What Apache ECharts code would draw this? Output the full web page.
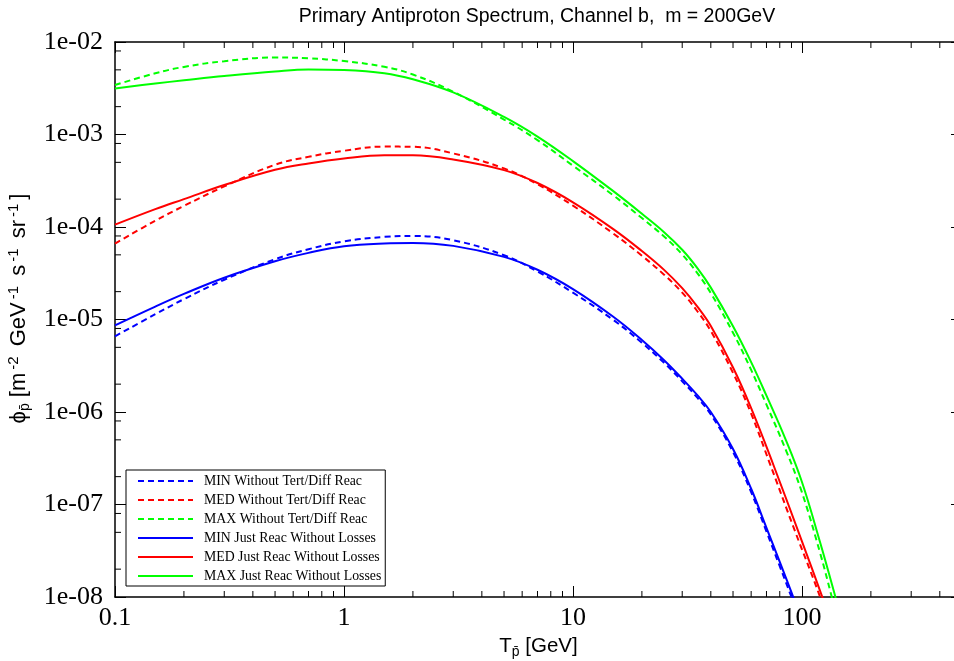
<!DOCTYPE html>
<html>
<head>
<meta charset="utf-8">
<script src="https://cdn.jsdelivr.net/npm/echarts@6/dist/echarts.min.js"></script>
<style>
html,body{margin:0;padding:0;background:#fff;}
#chart{width:954px;height:661px;}
</style>
</head>
<body>
<div id="chart"></div>
<script>
// ---------------- data ----------------
const titleText = 'Primary Antiproton Spectrum, Channel b,  m = 200GeV';
const legendNames = [
  'MIN Without Tert/Diff Reac',
  'MED Without Tert/Diff Reac',
  'MAX Without Tert/Diff Reac',
  'MIN Just Reac Without Losses',
  'MED Just Reac Without Losses',
  'MAX Just Reac Without Losses'
];
const seriesColors = ['#0000ff', '#ff0000', '#00ff00', '#0000ff', '#ff0000', '#00ff00'];
const seriesDashed = [true, true, true, false, false, false];

const xTickLabels = {'-1': '0.1', '0': '1', '1': '10', '2': '100'};
const xMinorTicks = [0.2,0.3,0.4,0.5,0.6,0.7,0.8,0.9, 2,3,4,5,6,7,8,9, 20,30,40,50,60,70,80,90, 200,300,400];
const yMinorTicks = [2e-8,5e-8,8e-8, 2e-7,5e-7,8e-7, 2e-6,5e-6,8e-6, 2e-5,5e-5,8e-5, 2e-4,5e-4,8e-4, 2e-3,5e-3,8e-3];

// MIN, dashed (Without Tert/Diff Reac)
const minDashed = [
  [0.1,6.58e-6],[0.15,1.14e-5],[0.2,1.66e-5],[0.3,2.69e-5],[0.5,4.49e-5],[0.7,5.75e-5],
  [1,7.0e-5],[1.5,7.82e-5],[2,8.0e-5],[3,7.2e-5],[5,4.95e-5],[7,3.3e-5],[10,1.95e-5],
  [15,9.9e-6],[20,5.6e-6],[25,3.4e-6],[30,2.15e-6],[35,1.42e-6],[40,9.4e-7],[50,3.7e-7],
  [60,1.36e-7],[70,5.1e-8],[80,2.15e-8],[90,1.0e-8],[100,5e-9]
];
// MED, dashed
const medDashed = [
  [0.1,6.62e-5],[0.15,1.17e-4],[0.2,1.69e-4],[0.3,2.75e-4],[0.5,4.71e-4],[0.7,5.74e-4],
  [1,6.67e-4],[1.5,7.4e-4],[2,7.36e-4],[3,6.24e-4],[5,4.3e-4],[7,2.9e-4],[10,1.7e-4],
  [15,8.5e-5],[20,4.9e-5],[25,3.05e-5],[30,1.95e-5],[35,1.22e-5],[40,7.5e-6],[50,2.65e-6],
  [60,9.6e-7],[72.5,2.75e-7],[93,5.24e-8],[120,1.0e-8],[126,6.5e-9]
];
// MAX, dashed
const maxDashed = [
  [0.1,3.43e-3],[0.15,4.59e-3],[0.2,5.38e-3],[0.3,6.2e-3],[0.5,6.8e-3],[0.7,6.66e-3],
  [1,6.22e-3],[1.5,5.4e-3],[2,4.45e-3],[3,2.9e-3],[5,1.45e-3],[7,8.7e-4],[10,4.6e-4],
  [15,2.2e-4],[20,1.25e-4],[25,7.9e-5],[30,5.05e-5],[35,3.15e-5],[40,1.93e-5],[50,7.2e-6],
  [60,2.85e-6],[70,1.2e-6],[85,3.9e-7],[100,1.35e-7],[120,3.0e-8],[135,1.0e-8],[145,5e-9]
];
// MIN, solid (Just Reac Without Losses)
const minSolid = [
  [0.1,8.65e-6],[0.15,1.38e-5],[0.2,1.89e-5],[0.3,2.83e-5],[0.5,4.26e-5],[0.7,5.25e-5],
  [1,6.2e-5],[1.5,6.65e-5],[2,6.73e-5],[3,6.25e-5],[5,4.75e-5],[7,3.45e-5],[10,2.13e-5],
  [15,1.07e-5],[20,6.0e-6],[25,3.63e-6],[30,2.29e-6],[35,1.51e-6],[40,1.0e-6],[50,3.98e-7],
  [60,1.48e-7],[70,5.6e-8],[80,2.4e-8],[90,1.12e-8],[100,5.6e-9]
];
// MED, solid
const medSolid = [
  [0.1,1.06e-4],[0.15,1.56e-4],[0.2,2.0e-4],[0.3,2.84e-4],[0.5,4.15e-4],[0.7,4.87e-4],
  [1,5.51e-4],[1.5,5.95e-4],[2,5.95e-4],[3,5.37e-4],[5,4.12e-4],[7,2.99e-4],[10,1.85e-4],
  [15,9.5e-5],[20,5.5e-5],[25,3.44e-5],[30,2.18e-5],[35,1.37e-5],[40,8.5e-6],[50,3.03e-6],
  [60,1.1e-6],[75,2.69e-7],[100,4.0e-8],[124,9.3e-9],[130,6.5e-9]
];
// MAX, solid
const maxSolid = [
  [0.1,3.15e-3],[0.15,3.56e-3],[0.2,3.85e-3],[0.3,4.28e-3],[0.5,4.8e-3],[0.7,5.05e-3],
  [1,4.98e-3],[1.5,4.6e-3],[2,3.95e-3],[3,2.85e-3],[5,1.55e-3],[7,9.5e-4],[10,5.16e-4],
  [15,2.44e-4],[20,1.39e-4],[25,8.8e-5],[30,5.67e-5],[35,3.57e-5],[40,2.21e-5],[50,8.45e-6],
  [60,3.46e-6],[70,1.5e-6],[85,5.0e-7],[100,1.75e-7],[120,3.9e-8],[140,1.0e-8],[150,5.2e-9]
];
const seriesData = [minDashed, medDashed, maxDashed, minSolid, medSolid, maxSolid];

const xMin = 0.1, xMax = 500, yMin = 1e-8, yMax = 1e-2;

// ---------------- chart ----------------
const chart = echarts.init(document.getElementById('chart'), null, {renderer: 'canvas'});
const serif = 'Liberation Serif, Times New Roman, serif';
const sans = 'Liberation Sans, Arial, sans-serif';

function yLabel(v) {
  const e = Math.round(Math.log10(v));
  if (Math.abs(Math.log10(v) - e) > 1e-6) return '';
  return '1e' + (e < 0 ? '-' : '+') + String(Math.abs(e)).padStart(2, '0');
}
function xLabel(v) {
  const e = Math.round(Math.log10(v));
  if (Math.abs(Math.log10(v) - e) > 1e-6) return '';
  return xTickLabels[String(e)] || '';
}

const axisLineStyle = {color: '#000', width: 1.5};

const lineSeries = seriesData.map((d, i) => ({
  name: legendNames[i],
  type: 'line',
  data: d,
  symbol: 'none',
  smooth: 0.4,
  clip: true,
  z: seriesDashed[i] ? 3 : 4,
  lineStyle: {color: seriesColors[i], width: 2, type: seriesDashed[i] ? [6, 4] : 'solid'},
  itemStyle: {color: seriesColors[i]}
}));

const xMinorSeries = {
  type: 'custom',
  silent: true,
  clip: false,
  data: xMinorTicks.map(v => [v, yMin]),
  renderItem: function (params, api) {
    const v = api.value(0);
    const b = api.coord([v, yMin]);
    const t = api.coord([v, yMax]);
    return {
      type: 'group',
      children: [
        {type: 'line', shape: {x1: b[0], y1: b[1], x2: b[0], y2: b[1] - 6}, style: {stroke: '#000', lineWidth: 1}},
        {type: 'line', shape: {x1: t[0], y1: t[1], x2: t[0], y2: t[1] + 6}, style: {stroke: '#000', lineWidth: 1}}
      ]
    };
  }
};
const yMinorSeries = {
  type: 'custom',
  silent: true,
  clip: false,
  data: yMinorTicks.map(v => [xMin, v]),
  renderItem: function (params, api) {
    const v = api.value(1);
    const l = api.coord([xMin, v]);
    const r = api.coord([xMax, v]);
    return {
      type: 'group',
      children: [
        {type: 'line', shape: {x1: l[0], y1: l[1], x2: l[0] + 6, y2: l[1]}, style: {stroke: '#000', lineWidth: 1}},
        {type: 'line', shape: {x1: r[0], y1: r[1], x2: r[0] - 6, y2: r[1]}, style: {stroke: '#000', lineWidth: 1}}
      ]
    };
  }
};

const option = {
  animation: false,
  backgroundColor: '#fff',
  title: {
    text: titleText,
    left: 532,
    textAlign: 'center',
    top: 2,
    textStyle: {fontFamily: sans, fontSize: 19.5, fontWeight: 'normal', color: '#000'}
  },
  grid: {left: 115, top: 42, width: 847, height: 555, containLabel: false, outerBoundsMode: 'none'},
  legend: {
    data: legendNames,
    orient: 'vertical',
    left: 126,
    top: 470,
    itemWidth: 55,
    itemHeight: 14,
    itemGap: 5,
    padding: [4, 4, 3, 11],
    backgroundColor: '#fff',
    borderColor: '#000',
    borderWidth: 1,
    borderRadius: 0,
    itemStyle: {opacity: 0},
    textStyle: {fontFamily: serif, fontSize: 13.8, color: '#000', padding: [0, 0, 0, 6]}
  },
  xAxis: [
    {
      type: 'log', logBase: 10, min: xMin, max: xMax, position: 'bottom',
      name: '{t|T}{s|p̄} [GeV]',
      nameLocation: 'middle', nameGap: 30,
      nameTextStyle: {fontFamily: sans, fontSize: 20.5, color: '#000',
        rich: {t: {fontFamily: sans, fontSize: 20.5, color: '#000'},
               s: {fontFamily: sans, fontSize: 14, color: '#000', padding: [12, 0, 0, 0]}}},
      axisLine: {show: true, lineStyle: axisLineStyle},
      axisTick: {show: true, inside: true, length: 11, lineStyle: {color: '#000', width: 1}},
      minorTick: {show: false},
      splitLine: {show: false},
      axisLabel: {formatter: xLabel, fontFamily: serif, fontSize: 26, color: '#000', margin: 8, showMinLabel: true, showMaxLabel: false}
    },
    {
      type: 'log', logBase: 10, min: xMin, max: xMax, position: 'top',
      axisLine: {show: true, lineStyle: axisLineStyle},
      axisTick: {show: true, inside: true, length: 11, lineStyle: {color: '#000', width: 1}},
      axisLabel: {show: false},
      splitLine: {show: false}
    }
  ],
  yAxis: [
    {
      type: 'log', logBase: 10, min: yMin, max: yMax, position: 'left',
      name: '{p|ϕ}{s|p̄} [m{u|-2} GeV{u|-1} s{u|-1} sr{u|-1}]',
      nameLocation: 'middle', nameGap: 70, nameRotate: 90,
      nameTextStyle: {fontFamily: sans, fontSize: 22, color: '#000', lineHeight: 28, padding: [0, 0, 0, 22],
        rich: {p: {fontFamily: sans, fontSize: 22, color: '#000', lineHeight: 28},
               s: {fontFamily: sans, fontSize: 14, color: '#000', padding: [12, 0, 0, 0]},
               u: {fontFamily: sans, fontSize: 15, color: '#000', padding: [0, 4, 11, 3]}}},
      axisLine: {show: true, lineStyle: axisLineStyle},
      axisTick: {show: true, inside: true, length: 11, lineStyle: {color: '#000', width: 1}},
      splitLine: {show: false},
      axisLabel: {formatter: yLabel, fontFamily: serif, fontSize: 26, color: '#000', margin: 12}
    },
    {
      type: 'log', logBase: 10, min: yMin, max: yMax, position: 'right',
      axisLine: {show: false},
      axisTick: {show: true, inside: true, length: 11, lineStyle: {color: '#000', width: 1}},
      axisLabel: {show: false},
      splitLine: {show: false}
    }
  ],
  series: lineSeries.concat([xMinorSeries, yMinorSeries])
};
chart.setOption(option);
</script>
</body>
</html>
